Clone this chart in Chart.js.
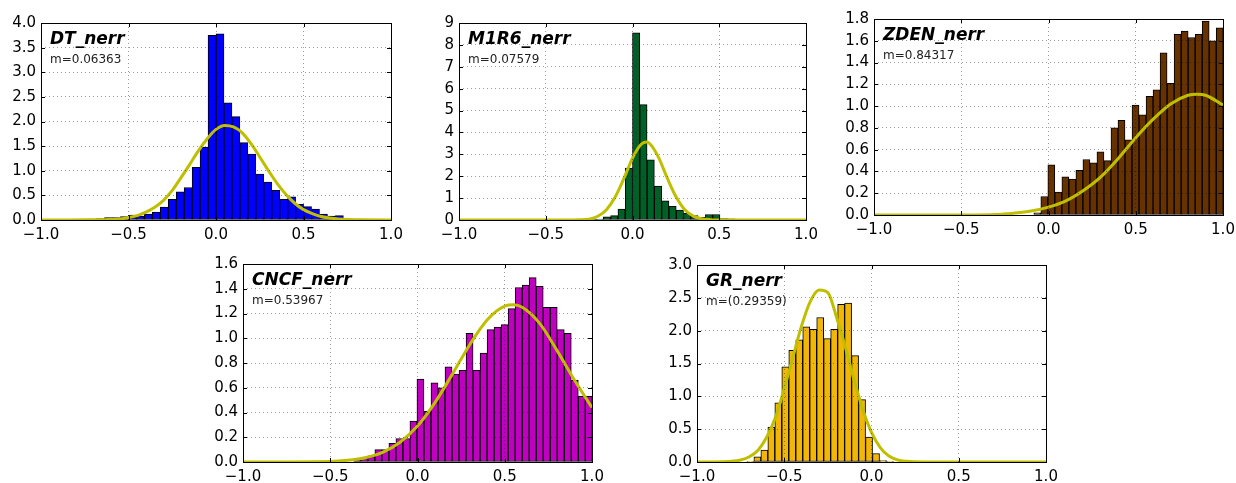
<!DOCTYPE html>
<html>
<head>
<meta charset="utf-8">
<script src="https://cdn.jsdelivr.net/npm/chart.js@4.4.1/dist/chart.umd.min.js"></script>
<style>
  body { margin: 0; background: #fff; }
  #wrap { position: relative; width: 1236px; height: 483px; overflow: hidden; }
  #wrap canvas { position: absolute; }
</style>
</head>
<body>
<div id="wrap"></div>
<script>
// histogram heights (density), left edge of first bin and bin width
const dtHeights = [0.02, 0.02, 0.02, 0.03, 0.05, 0.05, 0.07, 0.10, 0.08, 0.12, 0.16, 0.26, 0.42, 0.57, 0.66, 1.07, 1.48, 3.75,
                   3.78, 2.38, 2.10, 1.57, 1.34, 0.93, 0.77, 0.60, 0.42, 0.47, 0.32, 0.27, 0.22, 0.12, 0.08, 0.09, 0.02, 0.01, 0.02, 0.01];
const dtStart = -0.819, dtWidth = 0.0455;

const m1r6Heights = [0.02, 0.04, 0.15, 0.20, 0.50, 2.37, 8.55, 5.27, 2.75, 1.55, 0.88, 0.62, 0.45, 0.30, 0.20, 0.12, 0.25, 0.25, 0.06, 0.05, 0.02];
const m1r6Start = -0.252, m1r6Width = 0.042;

const zdenHeights = [0.02, 0.17, 0.46, 0.21, 0.35, 0.33, 0.41, 0.51, 0.48, 0.58, 0.50, 0.80, 0.87, 0.69, 1.01, 0.92, 1.09, 1.15, 1.49,
                     1.21, 1.66, 1.69, 1.63, 1.66, 1.78, 1.60, 1.72];
const zdenStart = -0.0842, zdenWidth = 0.0402;

const cncfHeights = [0.02, 0.04, 0.05, 0.10, 0.10, 0.15, 0.19, 0.19, 0.33, 0.67, 0.41, 0.64, 0.60, 0.77, 0.71, 0.74, 1.04, 0.74, 0.88,
                     1.07, 1.09, 1.11, 1.24, 1.41, 1.43, 1.49, 1.42, 1.25, 1.25, 1.07, 1.04, 0.66, 0.53, 0.53];
const cncfStart = -0.365, cncfWidth = 0.0402;

const grHeights = [0.01, 0.08, 0.18, 0.53, 0.90, 1.45, 1.70, 1.86, 2.06, 2.02, 2.20, 1.88, 2.02, 2.40, 2.42, 1.62, 0.95, 0.38, 0.13, 0.02, 0.01];
const grStart = -0.714, grWidth = 0.04;

// fitted normal curves
const dtCurveX = [-1, -0.8, -0.7, -0.6, -0.55, -0.5, -0.45, -0.4, -0.35, -0.3, -0.25, -0.2, -0.15, -0.1, -0.05, 0, 0.05, 0.1, 0.15, 0.2, 0.25, 0.3, 0.35, 0.4, 0.45, 0.5, 0.55, 0.6, 0.65, 0.7, 0.8, 1];
const dtCurveY = [0, 0, 0.003, 0.01, 0.02, 0.05, 0.09, 0.16, 0.26, 0.40, 0.60, 0.86, 1.13, 1.41, 1.65, 1.84, 1.92, 1.89, 1.77, 1.55, 1.28, 1.00, 0.74, 0.52, 0.34, 0.21, 0.13, 0.07, 0.04, 0.02, 0.003, 0];

const m1r6CurveX = [-1, -0.4, -0.3, -0.25, -0.2, -0.15, -0.1, -0.05, 0, 0.05, 0.08, 0.1, 0.15, 0.2, 0.25, 0.3, 0.35, 0.4, 0.45, 0.5, 0.6, 1];
const m1r6CurveY = [0, 0, 0.01, 0.04, 0.17, 0.47, 1.05, 1.89, 2.83, 3.46, 3.56, 3.48, 2.86, 1.92, 1.07, 0.48, 0.18, 0.055, 0.014, 0.003, 0, 0];

const zdenCurveX = [-1, -0.5, -0.3, -0.2, -0.1, 0, 0.1, 0.2, 0.3, 0.4, 0.5, 0.6, 0.7, 0.8, 0.85, 0.9, 1];
const zdenCurveY = [0, 0.001, 0.005, 0.017, 0.036, 0.072, 0.13, 0.225, 0.35, 0.52, 0.71, 0.88, 1.02, 1.10, 1.11, 1.10, 1.01];

const cncfCurveX = [-1, -0.5, -0.4, -0.3, -0.2, -0.1, 0, 0.1, 0.2, 0.3, 0.4, 0.5, 0.55, 0.6, 0.7, 0.8, 0.9, 1];
const cncfCurveY = [0, 0.005, 0.014, 0.035, 0.078, 0.16, 0.29, 0.48, 0.71, 0.95, 1.15, 1.26, 1.27, 1.25, 1.12, 0.90, 0.66, 0.44];

const grCurveX = [-1, -0.9, -0.8, -0.75, -0.7, -0.65, -0.6, -0.55, -0.5, -0.45, -0.4, -0.35, -0.3, -0.25, -0.2, -0.15, -0.1, -0.05, 0, 0.05, 0.1, 0.15, 0.2, 0.3, 1];
const grCurveY = [0, 0, 0.01, 0.03, 0.08, 0.18, 0.38, 0.68, 1.12, 1.60, 2.08, 2.45, 2.62, 2.58, 2.20, 1.75, 1.25, 0.80, 0.45, 0.22, 0.09, 0.03, 0.01, 0, 0];

const xTicks = [-1, -0.5, 0, 0.5, 1];

// panel layout: plot area on the page
const panels = [
  { title: 'DT_nerr',   note: 'm=0.06363',   heights: dtHeights,   start: dtStart,   width: dtWidth,   cx: dtCurveX,   cy: dtCurveY,
    yMax: 4,   yStep: 0.5, yDec: 1, color: '#0000ff', l: 41,  t: 21,  w: 350, h: 199 },
  { title: 'M1R6_nerr', note: 'm=0.07579',   heights: m1r6Heights, start: m1r6Start, width: m1r6Width, cx: m1r6CurveX, cy: m1r6CurveY,
    yMax: 9,   yStep: 1,   yDec: 0, color: '#006128', l: 459, t: 21,  w: 347, h: 199 },
  { title: 'ZDEN_nerr', note: 'm=0.84317',   heights: zdenHeights, start: zdenStart, width: zdenWidth, cx: zdenCurveX, cy: zdenCurveY,
    yMax: 1.8, yStep: 0.2, yDec: 1, color: '#663300', l: 874, t: 17,  w: 349, h: 198 },
  { title: 'CNCF_nerr', note: 'm=0.53967',   heights: cncfHeights, start: cncfStart, width: cncfWidth, cx: cncfCurveX, cy: cncfCurveY,
    yMax: 1.6, yStep: 0.2, yDec: 1, color: '#c000c0', l: 243, t: 262, w: 349, h: 200 },
  { title: 'GR_nerr',   note: 'm=(0.29359)', heights: grHeights,   start: grStart,   width: grWidth,   cx: grCurveX,   cy: grCurveY,
    yMax: 3,   yStep: 0.5, yDec: 1, color: '#f2b705', l: 697, t: 263, w: 349, h: 199 }
];

const FONT = '"DejaVu Sans", "Liberation Sans", sans-serif';
const PAD = { left: 4, top: 12, right: 18, bottom: 4 };
const Y_AXIS_W = 40, X_AXIS_H = 26;
const GRID = 'rgba(0,0,0,0.38)';

// frame, inward ticks on all four sides, and the labels inside the axes
const panelDecor = {
  id: 'panelDecor',
  afterDraw(chart, args, opts) {
    const { ctx, chartArea: a, scales } = chart;
    ctx.save();
    ctx.strokeStyle = '#000';
    ctx.lineWidth = 1;
    ctx.beginPath();
    scales.y.ticks.forEach(tk => {
      const py = Math.round(scales.y.getPixelForValue(tk.value)) + 0.5;
      ctx.moveTo(a.left, py); ctx.lineTo(a.left + 4, py);
      ctx.moveTo(a.right, py); ctx.lineTo(a.right - 4, py);
    });
    scales.x.ticks.forEach(tk => {
      const px = Math.round(scales.x.getPixelForValue(tk.value)) + 0.5;
      ctx.moveTo(px, a.bottom); ctx.lineTo(px, a.bottom - 4);
      ctx.moveTo(px, a.top); ctx.lineTo(px, a.top + 4);
    });
    ctx.stroke();
    ctx.strokeRect(Math.round(a.left) + 0.5, Math.round(a.top) + 0.5, Math.round(a.right - a.left), Math.round(a.bottom - a.top));

    ctx.fillStyle = '#000';
    ctx.textBaseline = 'alphabetic';
    ctx.textAlign = 'left';
    ctx.font = 'italic bold 17px ' + FONT;
    ctx.fillText(opts.title, a.left + 9, a.top + 21);
    ctx.fillStyle = '#222';
    ctx.font = '12px ' + FONT;
    ctx.fillText(opts.note, a.left + 9, a.top + 40);
    ctx.restore();
  }
};

const wrap = document.getElementById('wrap');

panels.forEach(p => {
  const canvas = document.createElement('canvas');
  canvas.width = PAD.left + Y_AXIS_W + p.w + PAD.right;
  canvas.height = PAD.top + p.h + X_AXIS_H + PAD.bottom;
  canvas.style.left = (p.l - PAD.left - Y_AXIS_W) + 'px';
  canvas.style.top = (p.t - PAD.top) + 'px';
  wrap.appendChild(canvas);

  const bars = p.heights.map((v, i) => ({ x: p.start + p.width * (i + 0.5), y: v }));
  const curve = p.cx.map((x, i) => ({ x: x, y: p.cy[i] }));

  new Chart(canvas.getContext('2d'), {
    type: 'bar',
    data: {
      datasets: [
        {
          type: 'line',
          data: curve,
          borderColor: '#bfbf00',
          borderWidth: 3,
          pointRadius: 0,
          cubicInterpolationMode: 'monotone',
          order: 0
        },
        {
          type: 'bar',
          data: bars,
          backgroundColor: p.color,
          borderColor: '#000',
          borderWidth: 1,
          borderSkipped: false,
          barPercentage: 1,
          categoryPercentage: 1,
          order: 1
        }
      ]
    },
    options: {
      responsive: false,
      animation: false,
      devicePixelRatio: 1,
      layout: { padding: PAD },
      plugins: {
        legend: { display: false },
        tooltip: { enabled: false },
        panelDecor: { title: p.title, note: p.note }
      },
      scales: {
        x: {
          type: 'linear',
          min: -1, max: 1,
          offset: false,
          afterFit: s => { s.height = X_AXIS_H; },
          afterBuildTicks: s => { s.ticks = xTicks.map(v => ({ value: v })); },
          grid: { offset: false, color: GRID, lineWidth: 1, drawTicks: false, z: 1 },
          border: { display: false, dash: [1, 3] },
          ticks: {
            padding: 6,
            color: '#000',
            font: { family: FONT, size: 15 },
            maxRotation: 0,
            callback: v => v.toFixed(1).replace('-', '\u2212')
          }
        },
        y: {
          min: 0, max: p.yMax,
          afterFit: s => { s.width = Y_AXIS_W; },
          grid: { color: GRID, lineWidth: 1, drawTicks: false, z: 1 },
          border: { display: false, dash: [1, 3] },
          ticks: {
            stepSize: p.yStep,
            padding: 5,
            color: '#000',
            font: { family: FONT, size: 15 },
            callback: v => v.toFixed(p.yDec)
          }
        }
      }
    },
    plugins: [panelDecor]
  });
});
</script>
</body>
</html>
